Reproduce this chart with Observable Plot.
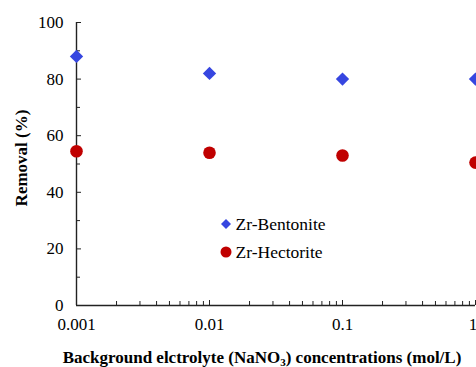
<!DOCTYPE html>
<html><head><meta charset="utf-8">
<script src="https://cdn.jsdelivr.net/npm/d3@7"></script>
<script src="https://cdn.jsdelivr.net/npm/@observablehq/plot@0.6"></script>
<style>
html,body{margin:0;padding:0;background:#fff;overflow:hidden;}
#wrap{position:relative;width:476px;height:367px;overflow:hidden;}
svg text{font-family:'Liberation Serif','Times New Roman',serif;}
</style></head><body><div id="wrap"></div>
<script>
const concentrations = [0.001, 0.01, 0.1, 1];
const bentonite = [88, 82, 80, 80];
const hectorite = [54.5, 54, 53, 50.5];
const seriesNames = ["Zr-Bentonite", "Zr-Hectorite"];
const seriesColors = ["#3646E0", "#C00000"];
const xTickValues = [0.001, 0.01, 0.1, 1];
const xTickLabels = ["0.001", "0.01", "0.1", "1"];
const yTickValues = [0, 20, 40, 60, 80, 100];
const yMinorTicks = [10, 30, 50, 70, 90];
const xMinorTicks = [-3, -2, -1].flatMap(e => [2,3,4,5,6,7,8,9].map(m => +(m * Math.pow(10, e)).toPrecision(3)));
const xDomain = [0.001, 1];
const yDomain = [0, 100];
const xTitle = ["Background elctrolyte (NaNO", "3", ") concentrations (mol/L)"];
const yTitle = "Removal (%)";

const rowsB = concentrations.map((c, i) => ({c, v: bentonite[i]}));
const rowsH = concentrations.map((c, i) => ({c, v: hectorite[i]}));

const font = "'Liberation Serif', 'Times New Roman', serif";
const axisColor = "#222";
const W = 476, H = 367, ML = 76, MR = 1, MT = 22, MB = 62;
const plotW = W - ML - MR, plotH = H - MT - MB;
const labelFmt = d => xTickLabels[xTickValues.indexOf(d)];

const chart = Plot.plot({
  width: W, height: H,
  marginLeft: ML, marginRight: MR, marginTop: MT, marginBottom: MB,
  style: {fontFamily: font, fontSize: "17px", color: "#000", background: "#fff", overflow: "visible"},
  x: {type: "log", domain: xDomain},
  y: {domain: yDomain},
  marks: [
    Plot.axisY({ticks: yTickValues, tickSize: 0, tickPadding: 13, label: null, fontSize: 17}),
    Plot.tickY(yTickValues, {y: d => d, insetRight: plotW - 5, stroke: axisColor}),
    Plot.tickY(yMinorTicks, {y: d => d, insetRight: plotW - 4, stroke: axisColor}),
    Plot.axisX({ticks: xTickValues.slice(0, 3), tickFormat: labelFmt, tickSize: 0, tickPadding: 12, label: null, fontSize: 17}),
    Plot.axisX({ticks: xTickValues.slice(3), tickFormat: labelFmt, tickSize: 0, tickPadding: 12, dx: -2.5, label: null, fontSize: 17}),
    Plot.tickX(xMinorTicks, {x: d => d, insetTop: plotH - 4, stroke: axisColor}),
    Plot.tickX(xTickValues, {x: d => d, insetTop: plotH - 5, stroke: axisColor}),
    Plot.ruleY(yDomain.slice(0, 1), {y: d => d, stroke: axisColor, strokeWidth: 1.4}),
    Plot.ruleX(xDomain.slice(0, 1), {x: d => d, stroke: axisColor, strokeWidth: 1.4}),
    Plot.dot(rowsB, {x: "c", y: "v", symbol: "diamond2", r: 6, fill: seriesColors[0], stroke: "none"}),
    Plot.dot(rowsH, {x: "c", y: "v", symbol: "circle", r: 6.3, fill: seriesColors[1], stroke: "none"})
  ]
});

const svg = d3.select(chart);
const xt = svg.append("text")
  .attr("x", 262).attr("y", 363)
  .attr("text-anchor", "middle")
  .style("font-size", "17px").style("font-weight", "bold").attr("fill", "#000");
xt.append("tspan").text(xTitle[0]);
xt.append("tspan").text(xTitle[1]).attr("dy", 3).style("font-size", "11px");
xt.append("tspan").text(xTitle[2]).attr("dy", -3);
svg.append("text")
  .attr("transform", "translate(27,158) rotate(-90)")
  .attr("text-anchor", "middle")
  .style("font-size", "17px").style("font-weight", "bold").attr("fill", "#000")
  .text(yTitle);
const leg = svg.append("g").attr("text-anchor", "start");
const legendSymbols = [d3.symbolDiamond2, d3.symbolCircle];
const legendSizes = [Math.PI * 4.5 * 4.5, Math.PI * 5.5 * 5.5];
const legendY = [224, 252];
seriesNames.forEach((name, i) => {
  leg.append("path")
    .attr("d", d3.symbol(legendSymbols[i], legendSizes[i])())
    .attr("transform", `translate(226,${legendY[i]})`)
    .attr("fill", seriesColors[i]);
  leg.append("text")
    .attr("x", 235.5).attr("y", legendY[i] + 5.5)
    .attr("text-anchor", "start")
    .style("font-size", "17.5px").attr("fill", "#000")
    .text(name);
});

document.getElementById("wrap").appendChild(chart);
</script>
</body></html>
